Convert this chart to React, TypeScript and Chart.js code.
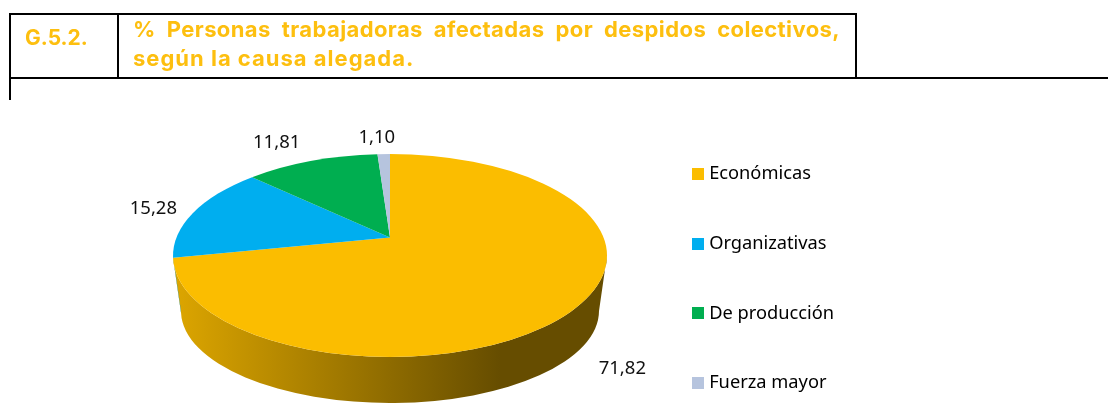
import React, { useEffect, useRef } from "react";
import { Chart, registerables } from "chart.js";

Chart.register(...registerables);

const categories = ["Económicas", "Organizativas", "De producción", "Fuerza mayor"];
const seriesValues = [71.82, 15.28, 11.81, 1.1];
const valueLabels = ["71,82", "15,28", "11,81", "1,10"];
const sliceColors = ["#FBBD00", "#00AEEF", "#00AE50", "#B6C4DE"];
const labelOffsets = [
  [46, 61],
  [-41, -3],
  [-35, -18],
  [-7, -16],
];

const TITLE_COLOR = "#FDBF0F";
const PIE = { cx: 390, cy: 255.5, rx: 217, ry: 101.5, k: 0.178, cy2: 311, rx2: 209, ry2: 92 };

// circle angle -> parameter on the projected (perspective) ellipse
function project(theta: number) {
  const c = Math.cos(theta);
  const s = Math.sin(theta);
  const d = 1 - PIE.k * s;
  const sinP = (s - PIE.k) / d;
  const cosP = (Math.sqrt(1 - PIE.k * PIE.k) * c) / d;
  return Math.atan2(sinP, cosP);
}

const shade = (hex: string, f: number) => {
  const n = parseInt(hex.slice(1), 16);
  const r = Math.round(((n >> 16) & 255) * f);
  const g = Math.round(((n >> 8) & 255) * f);
  const b = Math.round((n & 255) * f);
  return `rgb(${r},${g},${b})`;
};

const pie3d = {
  id: "pie3d",
  beforeDatasetDraw(chart: any) {
    const { ctx } = chart;
    const arcs = chart.getDatasetMeta(0).data;
    const apexY = PIE.cy - PIE.ry * PIE.k;
    // walls
    arcs.forEach((arc: any) => {
      const a0 = project(arc.startAngle);
      let a1 = project(arc.endAngle);
      if (a1 < a0) a1 += Math.PI * 2;
      const from = Math.max(a0, 0);
      const to = Math.min(a1, Math.PI);
      if (to <= from) return;
      const grad = ctx.createLinearGradient(PIE.cx - PIE.rx, 0, PIE.cx + 110, 0);
      const col = arc.options.backgroundColor;
      grad.addColorStop(0, shade(col, 0.88));
      grad.addColorStop(1, shade(col, 0.405));
      ctx.beginPath();
      ctx.ellipse(PIE.cx, PIE.cy, PIE.rx, PIE.ry, 0, from, to);
      ctx.ellipse(PIE.cx, PIE.cy2, PIE.rx2, PIE.ry2, 0, to, from, true);
      ctx.closePath();
      ctx.fillStyle = grad;
      ctx.fill();
    });
    // top faces
    arcs.forEach((arc: any) => {
      ctx.beginPath();
      ctx.moveTo(PIE.cx, apexY);
      ctx.ellipse(PIE.cx, PIE.cy, PIE.rx, PIE.ry, 0, project(arc.startAngle), project(arc.endAngle));
      ctx.closePath();
      ctx.fillStyle = arc.options.backgroundColor;
      ctx.fill();
    });
    // value labels
    ctx.fillStyle = "#111111";
    ctx.font = '18.5px "Noto Sans"';
    ctx.textAlign = "center";
    ctx.textBaseline = "middle";
    arcs.forEach((arc: any, i: number) => {
      const p = project((arc.startAngle + arc.endAngle) / 2);
      ctx.fillText(
        valueLabels[i],
        PIE.cx + PIE.rx * Math.cos(p) + labelOffsets[i][0],
        PIE.cy + PIE.ry * Math.sin(p) + labelOffsets[i][1]
      );
    });
    return false;
  },
  beforeDraw(chart: any) {
    const lg = chart.legend;
    const w = lg.right - lg.left;
    const h = lg.bottom - lg.top;
    lg.left = 696 - lg.options.labels.padding;
    lg.right = lg.left + w;
    lg.top = 165 - lg.options.labels.padding;
    lg.bottom = lg.top + h;
  },
};

function legendSwatch(color: string) {
  const c = document.createElement("canvas");
  c.width = 12;
  c.height = 12;
  const x = c.getContext("2d")!;
  x.fillStyle = color;
  x.fillRect(0, 0, 12, 12);
  return c;
}

export default function App() {
  const ref = useRef<HTMLCanvasElement>(null);
  useEffect(() => {
    const chart = new Chart(ref.current!, {
      type: "pie",
      data: {
        labels: categories,
        datasets: [{ data: seriesValues, backgroundColor: sliceColors, borderWidth: 0 }],
      },
      options: {
        animation: false,
        responsive: false,
        layout: { padding: 0 },
        plugins: {
          tooltip: { enabled: false },
          legend: {
            position: "right",
            align: "start",
            labels: {
              usePointStyle: true,
              boxWidth: 4,
              boxHeight: 4,
              padding: 51.4,
              color: "#111111",
              font: { family: '"Noto Sans"', size: 18.25 },
              generateLabels: () =>
                categories.map((text, i) => ({
                  text,
                  fillStyle: sliceColors[i],
                  strokeStyle: sliceColors[i],
                  lineWidth: 0,
                  hidden: false,
                  index: i,
                  pointStyle: legendSwatch(sliceColors[i]),
                })),
            },
          },
        },
      },
      plugins: [pie3d],
    } as any);
    return () => chart.destroy();
  }, []);

  const line = (left: number, top: number, width: number, height: number) => (
    <div style={{ position: "absolute", left, top, width, height, background: "#000" }} />
  );
  const titleFont: React.CSSProperties = {
    position: "absolute",
    color: TITLE_COLOR,
    fontFamily: "Inter",
    fontWeight: 700,
    fontSize: 22,
    lineHeight: "26px",
    whiteSpace: "nowrap",
  };

  return (
    <div style={{ position: "absolute", left: 0, top: 0, width: 1108, height: 403, overflow: "hidden", background: "#fff" }}>
      <canvas ref={ref} width={1108} height={403} style={{ position: "absolute", left: 0, top: 0, display: "block" }} />
      {line(9, 13, 848, 2)}
      {line(9, 77, 1099, 2)}
      {line(9, 13, 2, 87)}
      {line(117, 13, 2, 65)}
      {line(855, 13, 2, 65)}
      <div style={{ ...titleFont, left: 25, top: 25, fontSize: 21 }}>G.5.2.</div>
      <div style={{ ...titleFont, left: 133, top: 16, width: 707, whiteSpace: "normal", textAlign: "justify", textAlignLast: "justify", letterSpacing: 0.4 }}>
        % Personas trabajadoras afectadas por despidos colectivos,
      </div>
      <div style={{ ...titleFont, left: 133, top: 45, letterSpacing: 1 }}>según la causa alegada.</div>
    </div>
  );
}
